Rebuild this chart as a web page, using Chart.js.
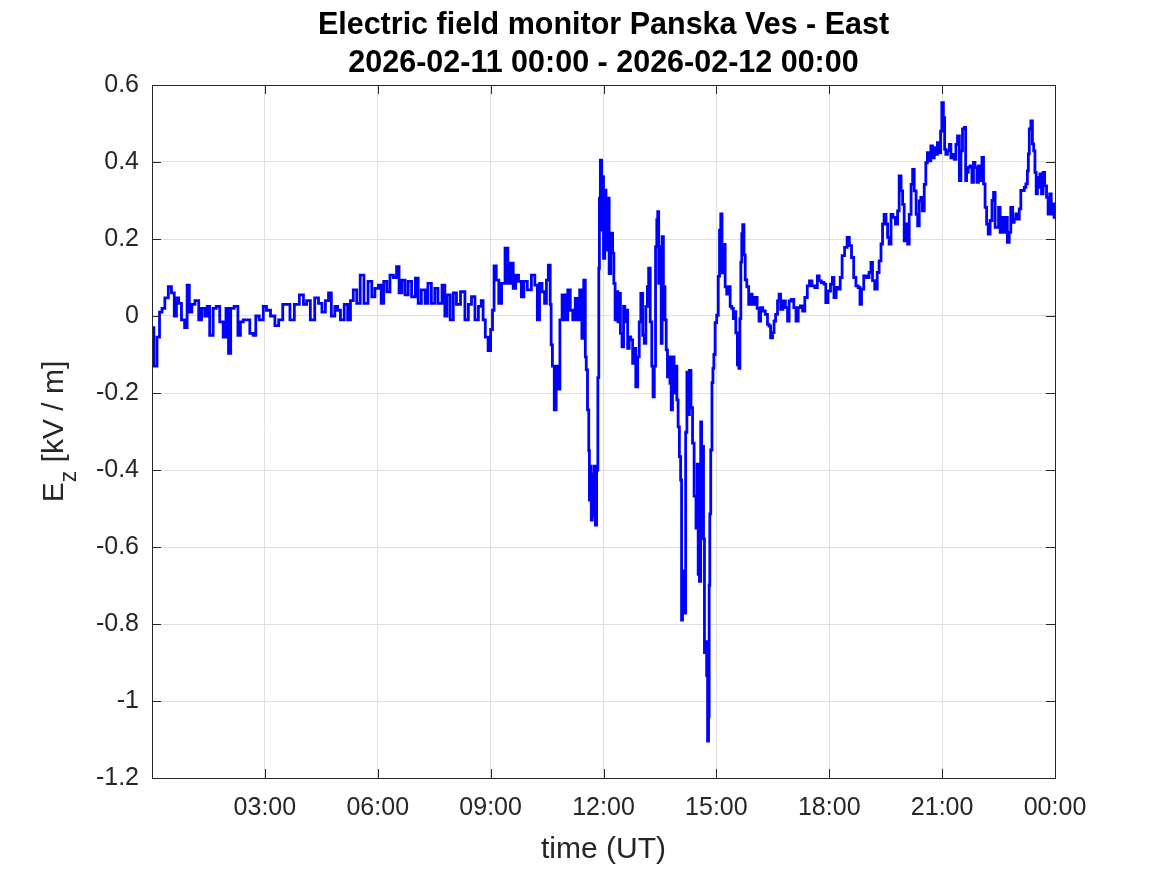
<!DOCTYPE html>
<html>
<head>
<meta charset="utf-8">
<title>Electric field monitor Panska Ves - East</title>
<script src="https://cdn.jsdelivr.net/npm/chart.js@4.4.1/dist/chart.umd.min.js"></script>
<style>
  html, body { margin: 0; padding: 0; background: #fff; }
  canvas { display: block; }
</style>
</head>
<body>
<canvas id="efmChart" width="1167" height="875"></canvas>
<script>
// ---- data ----
const titleLines = ['Electric field monitor Panska Ves - East', '2026-02-11 00:00 - 2026-02-12 00:00'];
const xLabel = 'time (UT)';

// minutes since 2026-02-11 00:00 UT
const timeMin = [
  0, 6, 10, 14, 18, 23, 29, 33, 38, 40, 45, 49, 55, 57, 62, 65, 72, 77, 81, 87, 89, 95, 100, 105, 111, 116, 120, 124, 127, 135,
  139, 143, 148, 153, 159, 164, 167, 175, 180, 185, 193, 199, 205, 212, 217, 223, 231, 239, 244, 249, 256, 263, 268, 274, 279, 284, 288, 295,
  297, 304, 309, 315, 318, 324, 329, 335, 341, 348, 353, 358, 364, 367, 372, 377, 382, 388, 392, 396, 401, 406, 411, 417, 423, 426, 433, 438,
  442, 449, 453, 459, 466, 468, 473, 478, 483, 488, 496, 502, 507, 512, 518, 523, 527, 529, 534, 538, 542, 544, 547, 551, 555, 560, 566, 569,
  574, 578, 582, 587, 591, 595, 602, 608, 613, 616, 620, 624, 628, 630, 634, 636, 637, 640, 643, 646, 649, 652, 656, 661, 665, 669, 673, 677,
  680, 684, 687, 690, 692, 693, 696, 697, 698, 700, 701, 703, 705, 706, 708, 710, 712, 713, 714, 716, 718, 719, 721, 723, 725, 728, 730, 733,
  736, 737, 740, 742, 744, 746, 748, 751, 753, 755, 757, 760, 762, 765, 768, 770, 773, 776, 778, 781, 784, 786, 789, 791, 793, 796, 798, 800,
  802, 804, 806, 807, 809, 811, 813, 814, 817, 819, 821, 823, 825, 827, 829, 831, 834, 836, 838, 840, 842, 844, 845, 847, 850, 852, 854, 856,
  858, 861, 863, 866, 869, 870, 872, 874, 876, 877, 879, 880, 882, 884, 885, 887, 888, 889, 890, 892, 894, 895, 897, 899, 902, 904, 906, 908,
  910, 913, 915, 918, 921, 923, 926, 928, 930, 932, 935, 937, 938, 940, 941, 943, 945, 947, 950, 953, 955, 959, 963, 967, 969, 972, 976, 980,
  983, 985, 988, 991, 993, 996, 999, 1001, 1004, 1008, 1012, 1015, 1017, 1022, 1025, 1029, 1032, 1036, 1039, 1043, 1047, 1050, 1055, 1059,
  1063, 1065, 1070, 1073, 1076, 1080, 1084, 1086, 1089, 1093, 1096, 1099, 1102, 1107, 1110, 1114, 1117, 1121, 1124, 1128, 1130, 1133, 1137,
  1142, 1145, 1148, 1150, 1155, 1158, 1161, 1164, 1166, 1169, 1172, 1174, 1177, 1180, 1183, 1188, 1190, 1193, 1196, 1198, 1201, 1204, 1206,
  1209, 1212, 1214, 1217, 1220, 1222, 1225, 1227, 1230, 1233, 1235, 1238, 1241, 1243, 1246, 1249, 1251, 1254, 1257, 1258, 1261, 1263, 1265,
  1267, 1270, 1273, 1275, 1278, 1281, 1283, 1286, 1289, 1291, 1294, 1297, 1298, 1300, 1303, 1306, 1309, 1311, 1314, 1317, 1319, 1322, 1325,
  1327, 1330, 1332, 1335, 1338, 1341, 1343, 1346, 1349, 1351, 1354, 1357, 1359, 1362, 1366, 1368, 1371, 1374, 1376, 1379, 1382, 1384, 1387,
  1390, 1392, 1395, 1397, 1398, 1400, 1403, 1405, 1407, 1409, 1411, 1413, 1415, 1417, 1420, 1422, 1425, 1428, 1430, 1433, 1435, 1437, 1440
];

// Ez in kV/m
const fieldKVm = [
  -0.03, -0.13, -0.055, 0.01, 0.02, 0.047, 0.076, 0.06, 0, 0.047, 0.033, -0.01, -0.03, 0.08, 0.01, 0.03, 0.04, -0.01, 0.02, 0, 0.025, -0.05, 0.02, 0.025, -0.015, -0.055, 0.02, -0.097, 0.02, 0.025,
  -0.05, -0.015, -0.01, -0.01, -0.045, -0.05, 0, -0.01, 0.025, 0.015, 0, -0.025, -0.01, 0.03, 0.03, -0.01, 0.03, 0.055, 0.03, 0.04, -0.01, 0.047, 0.033, 0.01, 0.04, 0.06, 0, 0.025,
  0.015, -0.01, 0.03, -0.01, 0.04, 0.068, 0.033, 0.106, 0.033, 0.09, 0.05, 0.072, 0.08, 0.033, 0.09, 0.063, 0.106, 0.1, 0.128, 0.06, 0.093, 0.055, 0.09, 0.05, 0.098, 0.033, 0.068, 0.033,
  0.085, 0.033, 0.072, 0.033, 0.08, 0, 0.055, -0.01, 0.06, 0.03, 0.063, -0.01, 0.03, 0.05, -0.01, 0.025, 0.04, -0.01, -0.055, -0.09, -0.035, 0.015, 0.13, 0.093, 0.033, 0.085, 0.176, 0.085,
  0.137, 0.072, 0.106, 0.09, 0.05, 0.09, 0.068, 0.106, 0.08, -0.01, 0.085, 0.063, 0.033, 0.093, 0.132, 0.03, -0.075, -0.13, -0.244, -0.13, -0.19, -0.01, 0.055, -0.01, 0.068, 0.015, -0.01, 0.046,
  -0.01, 0.068, -0.058, 0.093, -0.106, -0.14, -0.244, -0.35, -0.478, -0.39, -0.53, -0.41, -0.52, -0.39, -0.543, -0.4, -0.16, 0.124, 0.306, 0.405, 0.223, 0.362, 0.15, 0.327, 0.171, 0.306, 0.11, 0.215,
  0.163, 0.085, -0.01, 0.063, -0.015, 0.059, -0.045, -0.08, 0.025, -0.015, 0.015, -0.084, -0.054, -0.062, -0.123, -0.084, -0.184, -0.106, -0.015, 0.059, -0.05, -0.071, 0.025, 0.076, 0.124, -0.015, -0.13, -0.21,
  -0.13, 0.18, 0.25, 0.271, 0.085, 0.18, -0.071, 0.206, 0.076, -0.01, -0.088, -0.158, -0.106, -0.175, -0.244, -0.106, -0.2, -0.13, -0.218, -0.288, -0.365, -0.426, -0.79, -0.662, -0.772, -0.302, -0.146, -0.256,
  -0.141, -0.238, -0.33, -0.468, -0.551, -0.385, -0.671, -0.689, -0.275, -0.45, -0.339, -0.579, -0.874, -0.846, -0.934, -1.104, -1.04, -0.699, -0.514, -0.348, -0.173, -0.136, -0.1, -0.017, 0.002, 0.103, 0.223, 0.265,
  0.112, 0.186, 0.076, 0.057, 0.076, 0.025, 0.02, -0.007, 0.011, -0.044, -0.127, -0.136, -0.007, 0.14, 0.214, 0.237, 0.159, 0.094, 0.076, 0.03, 0.057, 0.03, 0.048, 0.02, -0.013, 0.022, 0.013, 0.004,
  -0.022, -0.026, -0.057, -0.043, -0.013, 0.004, 0.039, 0.057, 0.017, 0.039, 0.022, -0.013, 0.039, 0.043, 0.022, -0.013, 0.022, 0.026, 0.013, 0.048, 0.078, 0.091, 0.078, 0.074,
  0.104, 0.091, 0.087, 0.083, 0.035, 0.065, 0.083, 0.1, 0.048, 0.074, 0.07, 0.1, 0.157, 0.178, 0.204, 0.183, 0.152, 0.1, 0.078, 0.074, 0.03, 0.07, 0.104,
  0.1, 0.113, 0.139, 0.092, 0.07, 0.113, 0.143, 0.187, 0.239, 0.264, 0.239, 0.204, 0.187, 0.264, 0.256, 0.239, 0.273, 0.364, 0.325, 0.29, 0.195, 0.239, 0.187,
  0.264, 0.342, 0.381, 0.325, 0.264, 0.234, 0.299, 0.308, 0.273, 0.342, 0.398, 0.424, 0.403, 0.442, 0.411, 0.437, 0.42, 0.45, 0.424, 0.48, 0.554, 0.515, 0.433,
  0.42, 0.429, 0.446, 0.411, 0.42, 0.407, 0.446, 0.468, 0.352, 0.429, 0.486, 0.49, 0.352, 0.373, 0.386, 0.39, 0.347, 0.399, 0.386, 0.347, 0.39, 0.352, 0.412,
  0.343, 0.282, 0.239, 0.213, 0.248, 0.3, 0.321, 0.23, 0.23, 0.282, 0.217, 0.256, 0.217, 0.256, 0.191, 0.217, 0.282, 0.243, 0.252, 0.265, 0.252, 0.278, 0.326,
  0.326, 0.334, 0.343, 0.377, 0.421, 0.486, 0.507, 0.447, 0.429, 0.373, 0.317, 0.36, 0.334, 0.369, 0.317, 0.373, 0.338, 0.308, 0.265, 0.317, 0.265, 0.291, 0.256
];

const xTickMin = [0, 180, 360, 540, 720, 900, 1080, 1260, 1440];
const yTickVals = [-1.2, -1, -0.8, -0.6, -0.4, -0.2, 0, 0.2, 0.4, 0.6];

// ---- look (MATLAB-ish axes) ----
const FONT = "'Liberation Sans', Arial, Helvetica, sans-serif";
const AXIS_COL = '#262626';
const GRID_COL = '#dfdfdf';
const TICK_LEN = 9;

const hhmm = m => {
  const h = Math.floor(m / 60) % 24, mm = m % 60;
  return String(h).padStart(2, '0') + ':' + String(mm).padStart(2, '0');
};

// box + inward ticks + titles, drawn by hand since Chart.js only does outward ticks
const matlabAxes = {
  id: 'matlabAxes',
  afterDatasetsDraw(chart) {
    const { ctx, chartArea: a, scales: { x, y } } = chart;
    ctx.save();
    ctx.strokeStyle = AXIS_COL;
    ctx.lineWidth = 1;
    ctx.beginPath();
    xTickMin.forEach(t => {
      const px = Math.round(x.getPixelForValue(t)) + 0.5;
      ctx.moveTo(px, a.bottom); ctx.lineTo(px, a.bottom - TICK_LEN);
      ctx.moveTo(px, a.top); ctx.lineTo(px, a.top + TICK_LEN);
    });
    yTickVals.forEach(v => {
      const py = Math.round(y.getPixelForValue(v)) + 0.5;
      ctx.moveTo(a.left, py); ctx.lineTo(a.left + TICK_LEN, py);
      ctx.moveTo(a.right, py); ctx.lineTo(a.right - TICK_LEN, py);
    });
    ctx.stroke();
    ctx.strokeRect(Math.round(a.left) + 0.5, Math.round(a.top) + 0.5,
                   Math.round(a.right - a.left), Math.round(a.bottom - a.top));
    ctx.restore();
  },
  afterDraw(chart) {
    const { ctx, chartArea: a } = chart;
    const cx = (a.left + a.right) / 2;
    const cy = (a.top + a.bottom) / 2;
    ctx.save();
    // title
    ctx.fillStyle = '#000';
    ctx.textAlign = 'center';
    ctx.textBaseline = 'middle';
    ctx.font = `bold 30.5px ${FONT}`;
    ctx.fillText(titleLines[0], cx, 26);
    ctx.fillText(titleLines[1], cx, 64);
    // x label
    ctx.fillStyle = AXIS_COL;
    ctx.font = `30px ${FONT}`;
    ctx.fillText(xLabel, cx, 850);
    // y label: E_z [kV / m], rotated
    ctx.translate(63, cy);
    ctx.rotate(-Math.PI / 2);
    ctx.textAlign = 'left';
    ctx.textBaseline = 'alphabetic';
    const big = `30px ${FONT}`, small = `23px ${FONT}`;
    ctx.font = big;  const wE = ctx.measureText('E').width;
    ctx.font = small; const wZ = ctx.measureText('z').width;
    ctx.font = big;  const wR = ctx.measureText(' [kV / m]').width;
    let tx = -(wE + wZ + wR) / 2;
    ctx.font = big;   ctx.fillText('E', tx, 0); tx += wE;
    ctx.font = small; ctx.fillText('z', tx, 13); tx += wZ;
    ctx.font = big;   ctx.fillText(' [kV / m]', tx, 0);
    ctx.restore();
  }
};

const points = timeMin.map((t, i) => ({ x: t, y: fieldKVm[i] }));

new Chart(document.getElementById('efmChart'), {
  type: 'line',
  data: {
    datasets: [{
      data: points,
      borderColor: '#0000ff',
      borderWidth: 2.8,
      pointRadius: 0,
      stepped: 'middle',
      fill: false
    }]
  },
  options: {
    responsive: false,
    animation: false,
    parsing: false,
    layout: { padding: { top: 85, right: 112, left: 0, bottom: 0 } },
    plugins: { legend: { display: false }, tooltip: { enabled: false } },
    scales: {
      x: {
        type: 'linear', min: 0, max: 1440,
        afterFit: s => { s.height = 97; },
        afterBuildTicks: s => { s.ticks = xTickMin.map(v => ({ value: v })); },
        ticks: {
          autoSkip: false, maxRotation: 0, padding: 15,
          color: AXIS_COL, font: { family: FONT, size: 25 },
          callback: v => (v === 0 ? '' : hhmm(v))
        },
        grid: { color: GRID_COL, drawTicks: false },
        border: { display: false }
      },
      y: {
        type: 'linear', min: -1.2, max: 0.6,
        afterFit: s => { s.width = 152; },
        afterBuildTicks: s => { s.ticks = yTickVals.map(v => ({ value: v })); },
        ticks: {
          padding: 13, color: AXIS_COL, font: { family: FONT, size: 25 },
          callback: v => String(Number(v.toFixed(1)))
        },
        grid: { color: GRID_COL, drawTicks: false },
        border: { display: false }
      }
    }
  },
  plugins: [matlabAxes]
});
</script>
</body>
</html>
